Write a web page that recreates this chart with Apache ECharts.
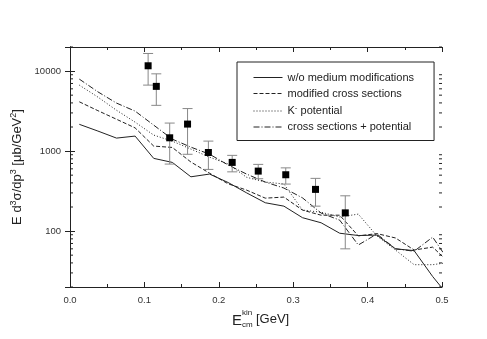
<!DOCTYPE html>
<html>
<head>
<meta charset="utf-8">
<script src="https://cdn.jsdelivr.net/npm/echarts@6/dist/echarts.min.js"></script>
<style>
  html, body { margin: 0; padding: 0; background: #fff; }
  #chart { width: 487px; height: 339px; }
</style>
</head>
<body>
<div id="chart"></div>
<script>
// model curves, sampled on the same energy grid (GeV)
const eGrid = [0.0125, 0.0375, 0.0625, 0.0875, 0.1125, 0.1375, 0.1625, 0.1875, 0.2125, 0.2375,
  0.2625, 0.2875, 0.3125, 0.3375, 0.3625, 0.3875, 0.4125, 0.4375, 0.4625, 0.4875, 0.5125];
const noMedium = [2160, 1780, 1453, 1540, 811, 722, 477, 516, 405, 300,
  226, 205, 147, 127, 94, 88, 89, 60, 57, 27, 14];
const modCross = [4130, 3200, 2500, 1950, 1155, 1110, 730, 530, 390, 325,
  258, 266, 183, 158, 158, 87, 93, 82, 58, 63, 38];
const kPot = [6680, 4730, 3240, 2300, 1585, 1330, 1060, 840, 690, 470,
  410, 388, 183, 172, 150, 163, 87, 58, 38, 38, 41];
const crossPot = [7940, 5500, 3980, 3160, 2110, 1410, 1120, 915, 670, 515,
  410, 345, 260, 168, 137, 67, 92, 60, 56, 84, 38];

// measured points with error bars
const dataE = [0.105, 0.116, 0.134, 0.158, 0.186, 0.218, 0.253, 0.290, 0.330, 0.370];
const dataVal = [11650, 6440, 1466, 2175, 960, 722, 562, 506, 332, 169];
const errLow = [6680, 3730, 688, 912, 590, 550, 451, 387, 205, 60];
const errHigh = [16600, 9240, 2240, 3400, 1333, 884, 682, 617, 456, 276];

const yMajor = [100, 1000, 10000];
const yMinor = [20, 30, 40, 50, 60, 70, 80, 90, 200, 300, 400, 500, 600, 700, 800, 900,
  2000, 3000, 4000, 5000, 6000, 7000, 8000, 9000, 20000];

const names = ["w/o medium modifications", "modified cross sections", "K- potential", "cross sections + potential"];
const dashes = ["solid", [4, 2], [1, 2], [6, 2, 1, 2]];
const curves = [noMedium, modCross, kPot, crossPot];

const ink = "#222";
const font = "Liberation Sans, Arial, sans-serif";

function zip(xs, ys) { return xs.map((x, i) => [x, ys[i]]); }

const lineSeries = curves.map((c, i) => ({
  name: names[i],
  type: "line",
  data: zip(eGrid, c),
  symbol: "none",
  lineStyle: { color: ink, width: 1, type: dashes[i] },
  itemStyle: { color: ink },
  z: 3,
}));

const xAxisBase = {
  type: "value", min: 0, max: 0.5, interval: 0.1,
  axisLine: { show: true, lineStyle: { color: ink, width: 1 } },
  axisTick: { show: true, inside: true, length: 5, lineStyle: { color: ink } },
  minorTick: { show: true, splitNumber: 2, length: 3, lineStyle: { color: ink } },
  splitLine: { show: false },
};
const yAxisBase = {
  type: "log", logBase: 10, min: 20, max: 20000,
  axisLine: { show: true, lineStyle: { color: ink, width: 1 } },
  axisTick: { show: true, inside: true, length: 5, lineStyle: { color: ink } },
  splitLine: { show: false },
};

const chart = echarts.init(document.getElementById("chart"), null, { renderer: "canvas" });
chart.setOption({
  backgroundColor: "#fff",
  animation: false,
  textStyle: { fontFamily: font },
  grid: { left: 70, right: 45, top: 47, bottom: 52 },
  legend: {
    data: names,
    orient: "vertical",
    left: 237, top: 62,
    padding: [10, 20, 8, 16],
    itemGap: 5,
    itemWidth: 29, itemHeight: 10,
    borderColor: ink, borderWidth: 1,
    itemStyle: { opacity: 0 },
    lineStyle: { width: 1 },
    textStyle: {
      fontSize: 11, color: ink, fontFamily: font,
      rich: {
        n: { fontSize: 11, color: ink, fontFamily: font },
        sup: { fontSize: 8, color: ink, fontFamily: font, padding: [0, 0, 6, 0] },
      },
    },
    formatter: n => n === "K- potential" ? "{n|K}{sup|-}{n| potential}" : n,
  },
  xAxis: [
    Object.assign({}, xAxisBase, {
      position: "bottom",
      axisLabel: { fontSize: 9.5, color: "#333", margin: 8, formatter: v => v.toFixed(1) },
    }),
    Object.assign({}, xAxisBase, { position: "top", axisLabel: { show: false } }),
  ],
  yAxis: [
    Object.assign({}, yAxisBase, {
      position: "left",
      axisLabel: {
        fontSize: 9.5, color: "#333", margin: 9,
        formatter: v => yMajor.includes(Math.round(v)) ? String(Math.round(v)) : "",
      },
      name: "E d{sup|3}σ/dp{sup|3} [μb/GeV{sup|2}]",
      nameLocation: "middle",
      nameGap: 40,
      nameRotate: 90,
      nameTextStyle: {
        fontSize: 13, color: ink, fontFamily: font,
        rich: { sup: { fontSize: 9, color: ink, padding: [0, 0, 7, 0] } },
      },
    }),
    Object.assign({}, yAxisBase, { position: "right", axisLabel: { show: false } }),
  ],
  graphic: [
    { type: "text", left: 232, top: 313, style: { text: "E", fontSize: 15, fill: ink, fontFamily: font } },
    { type: "text", left: 242, top: 309, style: { text: "kin", fontSize: 8, fill: ink, fontFamily: font } },
    { type: "text", left: 242, top: 321, style: { text: "cm", fontSize: 8, fill: ink, fontFamily: font } },
    { type: "text", left: 256, top: 313, style: { text: "[GeV]", fontSize: 13, fill: ink, fontFamily: font } },
  ],
  series: [
    ...lineSeries,
    {
      // minor ticks of the log axis, left and right
      type: "custom",
      silent: true,
      clip: false,
      data: yMinor.map(v => [0, v]),
      renderItem: (params, api) => {
        const v = api.value(1);
        const l = api.coord([0, v]);
        const r = api.coord([0.5, v]);
        const st = { stroke: ink, lineWidth: 1 };
        return {
          type: "group",
          children: [
            { type: "line", shape: { x1: l[0], y1: l[1], x2: l[0] + 3, y2: l[1] }, style: st },
            { type: "line", shape: { x1: r[0] - 3, y1: r[1], x2: r[0], y2: r[1] }, style: st },
          ],
        };
      },
      z: 2,
    },
    {
      // error bars
      type: "custom",
      silent: true,
      data: dataE.map((e, i) => [e, errLow[i], errHigh[i]]),
      renderItem: (params, api) => {
        const lo = api.coord([api.value(0), api.value(1)]);
        const hi = api.coord([api.value(0), api.value(2)]);
        const w = 5;
        const st = { stroke: "#888", lineWidth: 1 };
        return {
          type: "group",
          children: [
            { type: "line", shape: { x1: lo[0], y1: lo[1], x2: hi[0], y2: hi[1] }, style: st },
            { type: "line", shape: { x1: lo[0] - w, y1: lo[1], x2: lo[0] + w, y2: lo[1] }, style: st },
            { type: "line", shape: { x1: hi[0] - w, y1: hi[1], x2: hi[0] + w, y2: hi[1] }, style: st },
          ],
        };
      },
      z: 4,
    },
    {
      type: "scatter",
      data: zip(dataE, dataVal),
      symbol: "rect",
      symbolSize: 7,
      itemStyle: { color: "#000", opacity: 1 },
      z: 5,
    },
  ],
});
</script>
</body>
</html>
